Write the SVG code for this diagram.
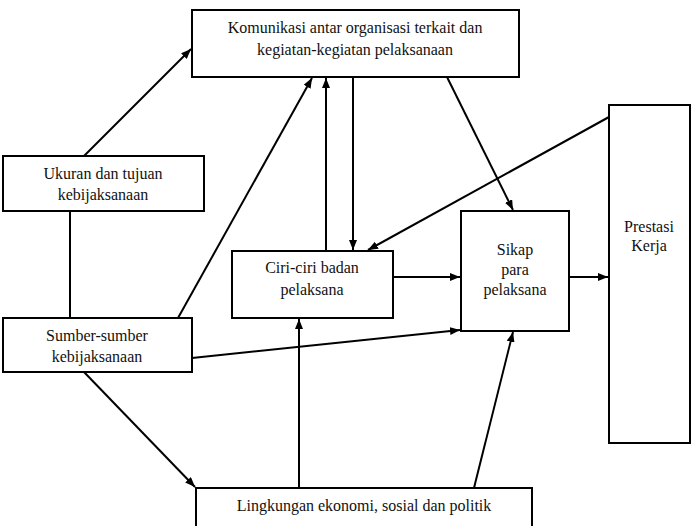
<svg xmlns="http://www.w3.org/2000/svg" width="693" height="526" viewBox="0 0 693 526">
<defs>
<marker id="ah" markerWidth="10" markerHeight="8" refX="10" refY="4" orient="auto" markerUnits="userSpaceOnUse">
<path d="M0,0 L10,4 L0,8 Z" fill="#000"/>
</marker>
<style>
.box{fill:#fff;stroke:#000;stroke-width:2}
.t{font-size:16px;fill:#111;text-anchor:middle}
.c line{stroke:#000;stroke-width:2}
.a{marker-end:url(#ah)}
</style>
</defs>
<rect width="693" height="526" fill="#fff"/>
<g class="c" id="connectors">
<line class="a" x1="83" y1="157" x2="191" y2="49"/>
<line x1="70" y1="211" x2="70" y2="318"/>
<line class="a" x1="178" y1="318" x2="312" y2="78"/>
<line class="a" x1="326" y1="251" x2="326" y2="78"/>
<line class="a" x1="353" y1="77" x2="353" y2="250"/>
<line class="a" x1="447" y1="77" x2="513" y2="210"/>
<line class="a" x1="609" y1="117" x2="368" y2="250"/>
<line class="a" x1="393" y1="277" x2="460" y2="277"/>
<line class="a" x1="569" y1="277" x2="608" y2="277"/>
<line class="a" x1="192" y1="358" x2="460" y2="330"/>
<line class="a" x1="84" y1="372" x2="195" y2="487"/>
<line class="a" x1="299" y1="488" x2="299" y2="319"/>
<line class="a" x1="474" y1="488" x2="513" y2="332"/>
</g>
<g font-family="Liberation Serif, Times New Roman, DejaVu Serif, serif">
<g id="komunikasi">
<rect class="box" x="192" y="10" width="327" height="67"/>
<text class="t" x="355" y="33">Komunikasi antar organisasi terkait dan</text>
<text class="t" x="355" y="55">kegiatan-kegiatan pelaksanaan</text>
</g>
<g id="ukuran">
<rect class="box" x="3" y="156" width="201" height="55"/>
<text class="t" x="103" y="179">Ukuran dan tujuan</text>
<text class="t" x="103" y="200">kebijaksanaan</text>
</g>
<g id="sumber">
<rect class="box" x="3" y="318" width="189" height="54"/>
<text class="t" x="97" y="341">Sumber-sumber</text>
<text class="t" x="97" y="362">kebijaksanaan</text>
</g>
<g id="ciri">
<rect class="box" x="232" y="251" width="161" height="67"/>
<text class="t" x="312" y="273">Ciri-ciri badan</text>
<text class="t" x="312" y="295">pelaksana</text>
</g>
<g id="sikap">
<rect class="box" x="461" y="211" width="108" height="120"/>
<text class="t" x="515" y="255">Sikap</text>
<text class="t" x="515" y="275">para</text>
<text class="t" x="515" y="295">pelaksana</text>
</g>
<g id="prestasi">
<rect class="box" x="609" y="105" width="81" height="338"/>
<text class="t" x="649" y="232">Prestasi</text>
<text class="t" x="649" y="251">Kerja</text>
</g>
<g id="lingkungan">
<rect class="box" x="196" y="488" width="336" height="40"/>
<text class="t" x="364" y="511">Lingkungan ekonomi, sosial dan politik</text>
</g>
</g>
</svg>
